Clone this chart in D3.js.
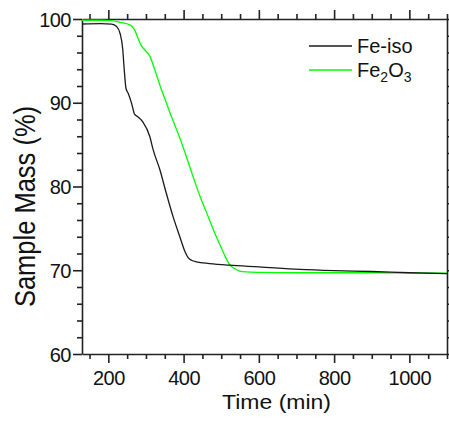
<!DOCTYPE html>
<html>
<head>
<meta charset="utf-8">
<script src="https://cdn.jsdelivr.net/npm/d3@7"></script>
<style>
    body { margin: 0; background: #fff; }
    svg { display: block; font-family: "Liberation Sans", Arial, sans-serif; }
    .axis path, .axis line { stroke: #222; stroke-width: 1.6px; }
    .axis text { fill: #111; font-size: 20px; font-family: "Liberation Sans", Arial, sans-serif; }
</style>
</head>
<body>
<div id="chart"></div>
<script>
// Fe-iso (black)
var feIsoTime = [130, 180, 209, 222, 231, 238, 242, 247, 253, 262, 270, 279, 292, 310, 319, 337, 354, 372, 390, 403, 412, 421, 434, 469, 522, 600, 708, 800, 900, 1000, 1100];
var feIsoMass = [99.4, 99.45, 99.4, 99.1, 98.3, 96.5, 94.1, 91.7, 91.1, 89.9, 88.6, 88.3, 87.7, 86.0, 84.4, 82.0, 79.2, 76.4, 74.0, 72.3, 71.5, 71.2, 71.0, 70.8, 70.6, 70.4, 70.1, 69.95, 69.85, 69.7, 69.6];
// Fe2O3 (green)
var fe2o3Time = [130, 180, 209, 231, 257, 270, 278, 288, 297, 310, 323, 337, 350, 363, 376, 390, 425, 443, 460, 487, 496, 511, 522, 535, 549, 566, 600, 708, 900, 1100];
var fe2o3Mass = [99.85, 99.85, 99.8, 99.6, 99.3, 98.7, 97.8, 96.8, 96.3, 95.6, 94.0, 92.1, 90.5, 88.9, 87.4, 85.8, 81.2, 78.9, 77.0, 74.0, 73.1, 71.6, 70.7, 70.2, 69.9, 69.8, 69.75, 69.7, 69.7, 69.65];

var xMajor = [200, 400, 600, 800, 1000];
var yMajor = [60, 70, 80, 90, 100];

var width = 449, height = 421;
var plotL = 82, plotR = 447, plotT = 19, plotB = 354;

var svg = d3.select('#chart').append('svg')
    .attr('width', width)
    .attr('height', height);

var x = d3.scaleLinear().domain([130, 1100]).range([plotL, plotR]);
var y = d3.scaleLinear().domain([60, 100]).range([plotB, plotT]);

var xMinor = d3.range(150, 1101, 50).filter(function (v) { return xMajor.indexOf(v) === -1; });
var yMinor = d3.range(60, 101, 2).filter(function (v) { return yMajor.indexOf(v) === -1; });

/** draws one side of the frame: major ticks (with or without labels) + minor ticks */
function drawAxis(axisFn, scale, pos, major, minor, labels) {
    var maj = axisFn(scale).tickValues(major).tickSize(9).tickSizeOuter(0).tickPadding(4)
        .tickFormat(labels ? d3.format('d') : '');
    var g = svg.append('g').attr('class', 'axis').attr('transform', pos).call(maj);
    var mn = axisFn(scale).tickValues(minor).tickSize(5).tickFormat('');
    var g2 = svg.append('g').attr('class', 'axis').attr('transform', pos).call(mn);
    g2.select('.domain').remove();
    return g;
}

var gx = drawAxis(d3.axisBottom, x, 'translate(0,' + plotB + ')', xMajor, xMinor, true);
gx.selectAll('text').attr('dy', null).attr('y', 31).attr('letter-spacing', -0.5);
drawAxis(d3.axisTop, x, 'translate(0,' + plotT + ')', xMajor, xMinor, false);
var gy = drawAxis(d3.axisLeft, y, 'translate(' + plotL + ',0)', yMajor, yMinor, true);
gy.selectAll('text').attr('x', -11).attr('dy', '0.36em').attr('letter-spacing', -0.5);
drawAxis(d3.axisRight, y, 'translate(' + plotR + ',0)', yMajor, yMinor, false);

svg.append('clipPath').attr('id', 'plot')
    .append('rect')
    .attr('x', plotL).attr('y', plotT)
    .attr('width', plotR - plotL).attr('height', plotB - plotT);

var line = d3.line()
    .x(function (d) { return x(d[0]); })
    .y(function (d) { return y(d[1]); })
    .curve(d3.curveMonotoneX);

var series = [
    { name: 'Fe-iso', color: '#1a1a1a', pts: d3.zip(feIsoTime, feIsoMass) },
    { name: 'Fe2O3', color: '#00ff00', pts: d3.zip(fe2o3Time, fe2o3Mass) }
];

svg.append('g').attr('clip-path', 'url(#plot)')
    .selectAll('path')
    .data(series.slice().reverse())
    .enter()
    .append('path')
    .attr('d', function (d) { return line(d.pts); })
    .attr('fill', 'none')
    .attr('stroke', function (d) { return d.color; })
    .attr('stroke-width', 1.3);

// legend
var legend = svg.append('g');
legend.selectAll('line')
    .data(series)
    .enter()
    .append('line')
    .attr('x1', 309).attr('x2', 352)
    .attr('y1', function (d, i) { return 46 + i * 24; })
    .attr('y2', function (d, i) { return 46 + i * 24; })
    .attr('stroke', function (d) { return d.color; })
    .attr('stroke-width', 1.3);

legend.append('text')
    .attr('x', 357).attr('y', 53)
    .attr('font-size', 20).attr('fill', '#111')
    .text('Fe-iso');

var t2 = legend.append('text')
    .attr('x', 357).attr('y', 77)
    .attr('font-size', 20).attr('fill', '#111');
t2.append('tspan').text('Fe');
t2.append('tspan').attr('font-size', 14).attr('dy', 5).text('2');
t2.append('tspan').attr('dy', -5).text('O');
t2.append('tspan').attr('font-size', 14).attr('dy', 5).text('3');

// axis titles
svg.append('text')
    .attr('transform', 'translate(' + ((plotL + plotR) / 2 + 12) + ',409) scale(1,0.87)')
    .attr('text-anchor', 'middle')
    .attr('font-size', 23).attr('fill', '#111')
    .text('Time (min)');

svg.append('text')
    .attr('transform', 'translate(35,' + ((plotT + plotB) / 2 + 20) + ') scale(1,0.85) rotate(-90)')
    .attr('text-anchor', 'middle')
    .attr('font-size', 30).attr('fill', '#111')
    .text('Sample Mass (%)');
</script>
</body>
</html>
